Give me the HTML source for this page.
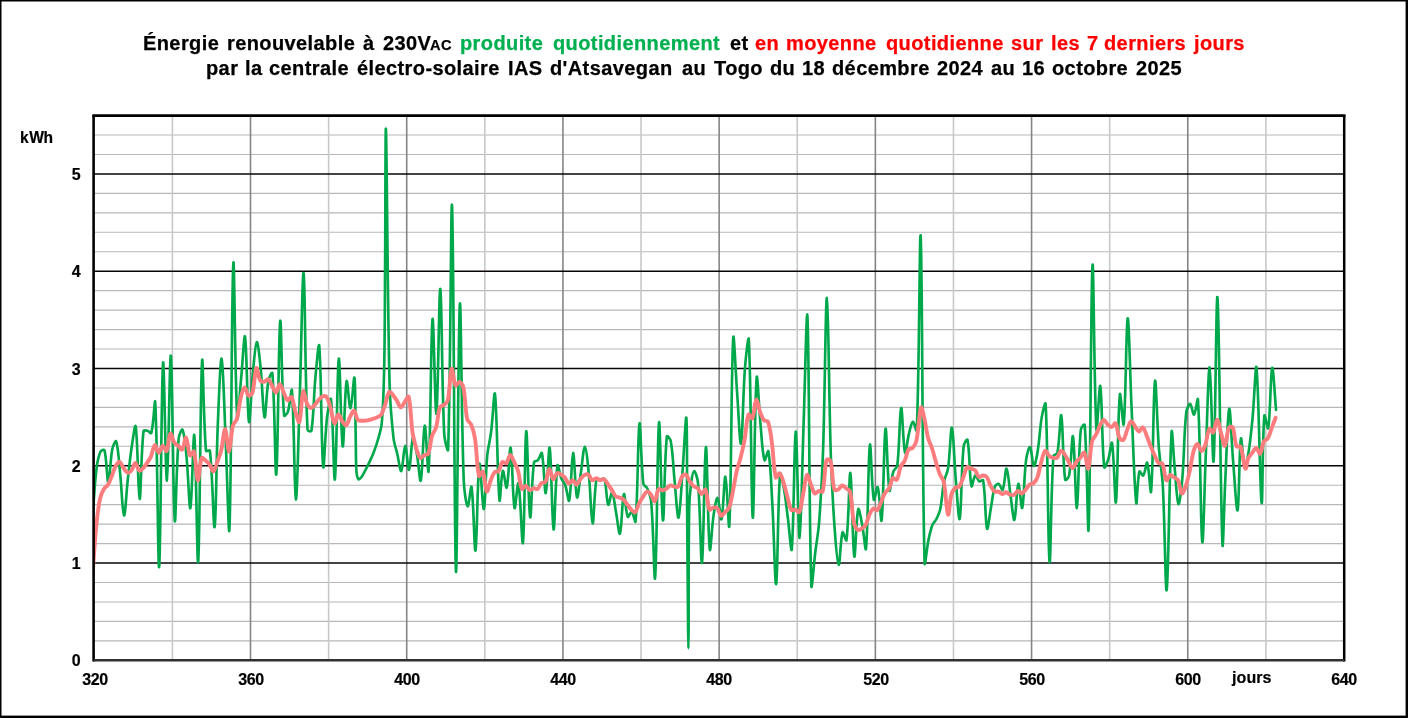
<!DOCTYPE html><html lang="fr"><head><meta charset="utf-8"><title>chart</title><style>
html,body{margin:0;padding:0;background:#fff}
#c{position:relative;width:1408px;height:718px;overflow:hidden;background:#fff;font-family:"Liberation Sans",sans-serif;font-weight:bold;color:#000}
.t{-webkit-text-stroke:0.25px currentColor;will-change:transform;position:absolute;white-space:nowrap;font-size:20px;line-height:22px;letter-spacing:0.4px}
.l{-webkit-text-stroke:0.2px currentColor;will-change:transform;position:absolute;white-space:nowrap;font-size:16px;line-height:16px;letter-spacing:-0.4px}
.g{color:#00b050}.r{color:#ff0000}.sc{font-size:14.6px;line-height:22px;letter-spacing:0.4px}
</style></head><body><div id="c">
<svg width="1408" height="718" viewBox="0 0 1408 718" style="position:absolute;left:0;top:0">
<rect x="0" y="0" width="1408" height="1.5" fill="#000"/><rect x="0" y="0" width="1.5" height="718" fill="#000"/><rect x="1405.6" y="0" width="2.4" height="718" fill="#000"/><rect x="0" y="715.6" width="1408" height="2.4" fill="#000"/>
<line x1="93.6" x2="1344.2" y1="640.85" y2="640.85" stroke="#bab6ba" stroke-width="1.1"/>
<line x1="93.6" x2="1344.2" y1="621.39" y2="621.39" stroke="#bab6ba" stroke-width="1.1"/>
<line x1="93.6" x2="1344.2" y1="601.94" y2="601.94" stroke="#bab6ba" stroke-width="1.1"/>
<line x1="93.6" x2="1344.2" y1="582.48" y2="582.48" stroke="#bab6ba" stroke-width="1.1"/>
<line x1="93.6" x2="1344.2" y1="543.58" y2="543.58" stroke="#bab6ba" stroke-width="1.1"/>
<line x1="93.6" x2="1344.2" y1="524.12" y2="524.12" stroke="#bab6ba" stroke-width="1.1"/>
<line x1="93.6" x2="1344.2" y1="504.67" y2="504.67" stroke="#bab6ba" stroke-width="1.1"/>
<line x1="93.6" x2="1344.2" y1="485.21" y2="485.21" stroke="#bab6ba" stroke-width="1.1"/>
<line x1="93.6" x2="1344.2" y1="446.31" y2="446.31" stroke="#bab6ba" stroke-width="1.1"/>
<line x1="93.6" x2="1344.2" y1="426.85" y2="426.85" stroke="#bab6ba" stroke-width="1.1"/>
<line x1="93.6" x2="1344.2" y1="407.40" y2="407.40" stroke="#bab6ba" stroke-width="1.1"/>
<line x1="93.6" x2="1344.2" y1="387.94" y2="387.94" stroke="#bab6ba" stroke-width="1.1"/>
<line x1="93.6" x2="1344.2" y1="349.04" y2="349.04" stroke="#bab6ba" stroke-width="1.1"/>
<line x1="93.6" x2="1344.2" y1="329.58" y2="329.58" stroke="#bab6ba" stroke-width="1.1"/>
<line x1="93.6" x2="1344.2" y1="310.13" y2="310.13" stroke="#bab6ba" stroke-width="1.1"/>
<line x1="93.6" x2="1344.2" y1="290.67" y2="290.67" stroke="#bab6ba" stroke-width="1.1"/>
<line x1="93.6" x2="1344.2" y1="251.77" y2="251.77" stroke="#bab6ba" stroke-width="1.1"/>
<line x1="93.6" x2="1344.2" y1="232.31" y2="232.31" stroke="#bab6ba" stroke-width="1.1"/>
<line x1="93.6" x2="1344.2" y1="212.86" y2="212.86" stroke="#bab6ba" stroke-width="1.1"/>
<line x1="93.6" x2="1344.2" y1="193.40" y2="193.40" stroke="#bab6ba" stroke-width="1.1"/>
<line x1="93.6" x2="1344.2" y1="154.50" y2="154.50" stroke="#bab6ba" stroke-width="1.1"/>
<line x1="93.6" x2="1344.2" y1="135.04" y2="135.04" stroke="#bab6ba" stroke-width="1.1"/>
<line x1="172.41" x2="172.41" y1="115.6" y2="660.3" stroke="#c6cac6" stroke-width="1.6"/>
<line x1="250.51" x2="250.51" y1="115.6" y2="660.3" stroke="#848684" stroke-width="1.6"/>
<line x1="328.62" x2="328.62" y1="115.6" y2="660.3" stroke="#c6cac6" stroke-width="1.6"/>
<line x1="406.72" x2="406.72" y1="115.6" y2="660.3" stroke="#848684" stroke-width="1.6"/>
<line x1="484.83" x2="484.83" y1="115.6" y2="660.3" stroke="#c6cac6" stroke-width="1.6"/>
<line x1="562.94" x2="562.94" y1="115.6" y2="660.3" stroke="#848684" stroke-width="1.6"/>
<line x1="641.04" x2="641.04" y1="115.6" y2="660.3" stroke="#c6cac6" stroke-width="1.6"/>
<line x1="719.15" x2="719.15" y1="115.6" y2="660.3" stroke="#848684" stroke-width="1.6"/>
<line x1="797.25" x2="797.25" y1="115.6" y2="660.3" stroke="#c6cac6" stroke-width="1.6"/>
<line x1="875.36" x2="875.36" y1="115.6" y2="660.3" stroke="#848684" stroke-width="1.6"/>
<line x1="953.47" x2="953.47" y1="115.6" y2="660.3" stroke="#c6cac6" stroke-width="1.6"/>
<line x1="1031.57" x2="1031.57" y1="115.6" y2="660.3" stroke="#848684" stroke-width="1.6"/>
<line x1="1109.68" x2="1109.68" y1="115.6" y2="660.3" stroke="#c6cac6" stroke-width="1.6"/>
<line x1="1187.78" x2="1187.78" y1="115.6" y2="660.3" stroke="#848684" stroke-width="1.6"/>
<line x1="1265.89" x2="1265.89" y1="115.6" y2="660.3" stroke="#c6cac6" stroke-width="1.6"/>
<line x1="93.6" x2="1344.2" y1="563.03" y2="563.03" stroke="#080408" stroke-width="1.6"/>
<line x1="93.6" x2="1344.2" y1="465.76" y2="465.76" stroke="#080408" stroke-width="1.6"/>
<line x1="93.6" x2="1344.2" y1="368.49" y2="368.49" stroke="#080408" stroke-width="1.6"/>
<line x1="93.6" x2="1344.2" y1="271.22" y2="271.22" stroke="#080408" stroke-width="1.6"/>
<line x1="93.6" x2="1344.2" y1="173.95" y2="173.95" stroke="#080408" stroke-width="1.6"/>
<clipPath id="cp"><rect x="93.6" y="115.6" width="1250.6" height="544.7"/></clipPath>
<g clip-path="url(#cp)" fill="none" stroke-linejoin="round" stroke-linecap="round">
<path d="M92.75,514.39C94.11,498.05 94.63,483.94 96.65,467.71C97.37,461.95 98.37,456.47 100.56,451.56C101.10,450.34 104.15,448.98 104.46,450.20C106.89,459.79 107.02,482.64 108.37,482.47C109.76,482.30 110.10,460.62 112.27,449.22C112.84,446.26 115.59,439.67 116.18,441.44C118.32,447.84 118.93,461.65 120.08,472.57C121.67,487.58 122.52,514.42 123.99,515.52C125.26,516.47 126.43,491.38 127.90,478.41C129.16,467.16 130.12,457.49 131.80,446.31C132.86,439.26 135.11,422.28 135.71,426.32C137.84,440.73 138.20,498.11 139.61,499.00C140.93,499.83 140.93,453.81 143.52,431.23C143.67,429.92 146.15,430.46 147.42,430.74C148.88,431.07 150.98,434.24 151.33,432.98C153.71,424.31 154.80,394.97 155.23,402.37C157.53,441.84 157.92,573.02 159.14,566.89C160.65,559.29 161.31,382.29 163.04,363.12C164.04,352.07 165.62,481.75 166.95,480.52C168.36,479.22 169.67,349.86 170.85,355.87C172.41,363.81 172.93,501.08 174.76,520.39C175.67,530.01 176.22,466.92 178.66,438.52C178.95,435.20 181.84,428.14 182.57,429.77C184.58,434.27 185.55,446.79 186.47,456.03C188.29,474.17 189.24,511.01 190.38,507.99C191.97,503.75 193.29,428.41 194.29,435.28C196.02,447.21 197.13,571.76 198.19,561.70C199.87,545.73 200.21,387.75 202.10,360.91C202.94,348.89 203.38,420.57 206.00,450.68C206.11,451.99 209.76,449.39 209.91,450.68C212.77,476.11 213.41,530.66 214.59,527.05C216.14,522.32 216.25,461.90 217.72,426.85C218.71,402.95 220.35,357.03 221.62,358.62C223.08,360.44 224.28,409.29 225.53,436.58C227.01,468.93 228.73,544.67 229.43,529.01C231.46,484.04 231.61,287.90 233.34,263.34C234.34,249.04 235.07,386.02 237.24,417.98C237.80,426.23 239.81,392.14 241.15,378.22C242.54,363.70 244.16,331.74 245.05,336.74C246.89,346.98 247.22,413.60 248.96,421.76C249.95,426.42 251.21,390.27 252.86,373.35C253.94,362.38 255.29,343.00 256.77,342.08C258.02,341.30 259.71,359.20 260.68,368.49C262.44,385.50 263.03,414.90 264.58,417.22C265.76,418.98 266.23,392.84 268.49,380.16C268.96,377.49 272.19,370.98 272.39,373.35C274.93,403.90 275.21,481.47 276.30,474.22C277.94,463.23 278.51,333.97 280.20,321.24C281.24,313.40 281.53,385.76 284.11,415.47C284.26,417.27 287.43,413.15 288.01,411.29C290.16,404.43 291.47,385.54 291.92,390.54C294.21,416.41 294.41,498.20 295.82,499.49C297.14,500.70 298.50,433.31 299.73,397.67C301.23,354.11 302.42,268.22 303.63,273.20C305.16,279.46 304.87,376.01 307.54,429.77C307.61,431.15 311.25,432.02 311.44,430.74C313.98,413.98 313.66,396.57 315.35,378.22C316.39,366.90 318.67,339.41 319.25,345.97C321.41,370.32 321.22,448.87 323.16,466.52C323.96,473.77 325.06,434.32 327.07,417.12C327.80,410.83 330.47,395.39 330.97,399.41C333.20,417.13 333.79,484.91 334.88,479.24C336.52,470.68 337.20,365.45 338.78,358.78C339.93,353.94 341.12,441.82 342.69,446.34C343.85,449.70 344.66,390.70 346.59,381.29C347.40,377.36 349.21,408.84 350.50,408.25C351.95,407.58 353.72,375.17 354.40,377.68C355.49,381.68 355.23,409.64 355.57,426.85C355.85,440.47 355.78,452.15 356.16,465.76C356.26,469.17 356.32,472.17 356.94,475.49C357.21,476.91 357.87,478.74 358.70,479.28C359.17,479.59 360.04,478.48 360.65,477.92C361.27,477.35 361.78,476.79 362.21,476.07C363.69,473.59 364.79,471.35 366.12,468.78C367.53,466.04 368.75,463.70 370.02,460.90C371.48,457.70 372.70,454.94 373.93,451.66C375.44,447.62 376.69,444.13 377.83,439.98C379.42,434.26 381.22,429.35 381.74,423.45C383.43,404.33 383.74,387.74 384.16,368.49C384.90,334.46 384.80,305.26 385.06,271.22C385.43,221.75 385.39,115.85 385.96,129.87C386.97,155.00 387.39,294.50 389.55,383.08C390.02,402.18 391.38,418.59 393.46,437.55C394.11,443.52 395.99,448.43 397.36,454.28C398.73,460.14 400.16,472.20 401.27,471.01C402.90,469.24 403.77,446.06 405.17,445.84C406.50,445.63 407.91,471.02 409.08,469.78C410.64,468.12 411.19,441.17 412.98,437.57C413.92,435.68 415.82,448.25 416.89,454.09C418.56,463.26 419.90,483.72 420.79,480.47C422.63,473.79 423.20,427.56 424.70,425.72C425.93,424.20 427.97,479.44 428.60,470.87C430.71,442.18 430.82,331.61 432.51,319.27C433.56,311.58 435.24,418.23 436.41,413.66C437.97,407.62 439.05,285.72 440.32,288.96C441.79,292.72 441.77,383.16 444.22,433.66C444.50,439.31 447.96,454.36 448.13,449.38C450.69,374.57 450.94,188.61 452.03,205.69C453.68,231.31 454.36,551.45 455.94,571.38C457.09,585.93 458.20,323.42 459.85,304.22C460.93,291.56 461.37,418.79 463.75,480.35C464.10,489.51 466.09,504.92 467.66,506.27C468.83,507.28 470.92,483.43 471.56,487.07C473.65,498.91 474.31,553.93 475.47,550.51C477.04,545.84 477.44,473.49 479.37,463.98C480.38,459.00 482.60,510.40 483.86,509.12C485.34,507.62 485.45,474.55 487.18,456.03C487.97,447.59 490.03,440.52 491.09,432.10C492.76,418.82 494.21,387.74 494.99,394.04C497.15,411.52 497.34,479.02 499.48,500.06C500.08,505.89 501.21,473.57 502.80,470.82C503.74,469.21 505.89,490.05 506.71,487.62C508.62,482.00 509.52,444.99 510.61,447.83C512.26,452.11 512.59,499.15 514.52,507.96C515.32,511.59 517.56,479.79 518.43,483.38C520.50,491.97 521.97,549.13 522.92,542.77C524.70,530.86 524.81,436.25 526.24,431.19C527.34,427.29 528.47,510.57 530.14,517.18C531.21,521.41 531.51,480.64 534.05,462.16C534.25,460.70 536.99,461.32 537.95,460.22C539.73,458.16 541.40,451.18 541.86,453.11C544.13,462.71 544.48,494.04 545.76,493.16C547.21,492.17 548.69,443.25 549.67,447.79C551.42,455.92 552.04,525.84 553.57,529.35C554.77,532.08 555.22,480.36 557.48,465.62C557.95,462.53 559.66,474.08 561.38,478.41C562.39,480.94 564.38,482.64 565.29,485.21C567.12,490.40 568.51,503.37 569.19,500.56C571.25,492.07 571.68,453.53 573.10,452.94C574.42,452.40 575.26,492.93 577.00,497.33C577.99,499.80 579.57,481.24 580.91,472.57C582.31,463.53 583.45,446.72 584.82,446.72C586.18,446.72 587.79,463.47 588.72,472.57C590.53,490.28 591.17,522.12 592.63,523.30C593.90,524.34 594.02,493.02 596.53,478.89C596.75,477.64 599.07,479.38 600.44,479.38C601.80,479.38 603.98,477.73 604.34,478.89C606.72,486.60 606.41,501.54 608.25,504.72C609.15,506.29 611.09,491.44 612.15,492.48C613.83,494.14 614.73,505.45 616.06,512.45C617.46,519.85 619.00,535.86 619.96,533.62C621.73,529.49 622.14,497.97 623.87,494.25C624.87,492.09 625.62,511.95 627.77,516.83C628.36,518.15 630.64,511.36 631.68,511.96C633.38,512.95 635.33,524.31 635.58,521.39C638.06,493.37 637.80,431.66 639.49,423.56C640.53,418.56 640.91,463.28 643.39,483.95C643.64,485.98 646.48,486.56 647.30,488.42C649.21,492.79 650.78,496.93 651.21,501.75C653.52,528.18 654.21,586.83 655.11,577.72C656.95,559.13 657.34,434.90 659.02,422.58C660.07,414.82 661.45,517.71 662.92,520.35C664.18,522.61 664.27,462.50 666.83,436.58C667.01,434.74 670.38,439.05 670.73,441.05C673.12,454.71 673.20,467.24 674.64,481.32C675.93,494.04 677.32,519.00 678.54,517.63C680.05,515.93 681.21,488.35 682.45,472.57C683.94,453.46 685.74,413.01 686.35,417.94C687.38,426.29 686.87,478.11 687.13,510.50C687.48,552.38 687.73,588.27 688.11,630.15C688.17,636.47 688.29,648.22 688.38,648.22C688.47,648.22 688.58,636.47 688.62,630.15C688.86,587.93 688.47,551.73 689.16,509.53C689.31,500.49 689.88,492.70 691.04,483.75C691.62,479.26 692.92,471.22 694.16,471.13C695.38,471.05 697.69,478.84 698.07,483.27C700.42,510.89 700.86,567.85 701.97,562.69C703.59,555.19 704.43,449.60 705.88,447.11C707.16,444.90 707.75,531.72 709.78,549.26C710.48,555.28 711.84,526.51 713.69,514.39C714.58,508.58 716.40,497.27 717.60,498.01C719.13,498.96 720.58,521.74 721.50,519.24C723.32,514.31 724.14,475.72 725.41,476.78C726.87,478.00 728.74,535.82 729.31,525.75C731.48,487.30 731.10,374.16 733.22,338.15C733.83,327.63 735.70,373.68 737.12,392.81C738.44,410.56 739.92,446.97 741.03,443.53C742.66,438.46 742.96,394.70 744.93,368.49C745.69,358.37 748.45,332.42 748.84,339.74C751.19,384.56 751.21,510.04 752.74,517.48C753.95,523.33 754.61,401.90 756.65,377.70C757.34,369.50 758.99,408.40 760.55,424.91C761.72,437.27 762.31,452.94 764.46,460.19C765.05,462.17 767.93,448.92 768.36,451.28C770.66,463.80 771.21,484.70 772.27,502.72C773.94,531.15 775.01,588.27 776.17,584.01C777.75,578.25 777.68,503.24 780.08,474.12C780.42,470.02 783.04,483.78 783.99,489.10C785.78,499.23 786.56,508.07 787.89,518.29C789.29,529.07 791.22,555.44 791.80,549.10C793.96,525.08 794.27,433.58 795.70,431.54C797.00,429.70 798.27,538.81 799.61,538.01C801.00,537.17 802.14,465.76 803.51,426.85C804.87,388.18 806.62,300.21 807.42,316.37C809.35,355.70 808.89,511.67 811.32,585.38C811.62,594.39 813.82,564.15 815.23,552.72C816.55,542.02 818.31,532.92 819.13,522.18C821.04,497.37 822.17,476.04 823.04,451.17C824.91,397.54 825.60,297.06 826.94,297.89C828.33,298.76 828.99,400.70 830.85,456.03C831.72,481.93 832.90,504.12 834.75,529.96C835.63,542.21 837.24,564.42 838.66,564.86C839.98,565.27 840.41,539.21 842.56,532.39C843.14,530.57 846.16,542.55 846.47,540.17C848.89,521.79 849.16,470.54 850.38,473.07C851.89,476.20 852.54,548.26 854.28,556.35C855.27,560.93 856.12,517.78 858.19,509.27C858.86,506.50 861.04,518.86 862.09,524.12C863.78,532.57 865.47,553.78 866.00,548.45C868.21,526.04 868.12,456.03 869.90,444.87C870.85,438.96 871.60,487.71 873.81,499.66C874.33,502.51 876.94,485.12 877.71,487.15C879.68,492.34 880.89,525.74 881.62,520.29C883.62,505.33 883.89,435.10 885.52,428.83C886.62,424.61 887.34,478.91 889.43,490.33C890.08,493.87 891.33,477.89 893.33,471.60C894.07,469.29 896.94,468.17 897.24,465.76C899.68,445.94 899.60,410.66 901.14,408.08C902.34,406.08 903.14,446.43 905.05,452.68C905.88,455.39 907.29,440.24 908.96,433.66C910.02,429.44 911.31,422.47 912.86,421.83C914.04,421.34 916.64,433.45 916.77,430.44C919.37,368.63 919.65,219.36 920.67,236.62C922.39,265.66 922.02,463.56 924.58,562.72C924.76,569.73 926.84,547.88 928.48,539.98C929.58,534.71 930.51,530.07 932.39,525.09C933.24,522.82 935.21,521.45 936.29,519.26C937.95,515.90 939.44,512.91 940.20,509.24C942.18,499.63 942.24,490.98 944.10,481.32C944.98,476.79 947.34,473.24 948.01,468.68C950.08,454.49 950.72,425.94 951.91,427.73C953.45,430.03 954.24,461.95 955.82,480.35C956.97,493.81 958.77,522.89 959.72,518.75C961.51,510.97 961.15,471.32 963.63,446.31C963.89,443.72 967.15,437.95 967.53,439.89C969.89,451.85 969.24,476.01 971.44,486.04C971.97,488.47 973.66,476.50 975.35,475.49C976.40,474.85 977.51,480.24 979.25,481.32C980.25,481.94 982.95,479.08 983.16,480.35C985.68,495.60 985.16,521.91 987.06,528.53C987.90,531.44 989.60,514.92 990.97,507.59C992.33,500.27 992.64,493.43 994.87,486.67C995.37,485.16 997.68,483.50 998.78,483.95C1000.41,484.62 1002.01,491.21 1002.68,489.88C1004.74,485.82 1005.36,467.74 1006.59,468.53C1008.10,469.51 1009.09,485.70 1010.49,494.94C1011.82,503.65 1013.28,521.41 1014.40,519.82C1016.01,517.53 1016.67,486.35 1018.30,483.85C1019.40,482.16 1021.29,510.67 1022.21,507.86C1024.02,502.30 1023.97,476.55 1026.11,459.92C1026.71,455.31 1028.90,446.30 1030.02,447.16C1031.63,448.40 1032.44,465.34 1033.92,465.92C1035.18,466.40 1036.94,455.78 1037.83,450.20C1039.67,438.71 1039.79,428.58 1041.74,417.12C1042.53,412.45 1045.42,400.11 1045.64,404.12C1048.16,450.72 1047.91,550.88 1049.55,561.75C1050.64,569.05 1050.84,492.38 1053.45,456.03C1053.57,454.36 1057.05,454.74 1057.36,453.11C1059.78,440.47 1060.25,411.85 1061.26,415.29C1062.98,421.11 1062.64,460.00 1065.17,479.57C1065.38,481.21 1068.75,477.68 1069.07,475.88C1071.48,462.59 1072.00,432.46 1072.98,436.47C1074.74,443.72 1075.58,509.17 1076.88,508.05C1078.31,506.83 1078.25,456.71 1080.79,429.77C1080.99,427.68 1084.54,423.18 1084.69,425.10C1087.28,457.88 1087.83,544.72 1088.60,528.92C1090.56,488.86 1090.82,286.96 1092.50,265.49C1093.55,252.12 1094.25,396.04 1096.41,429.39C1096.98,438.24 1099.36,381.46 1100.31,386.07C1102.09,394.67 1101.74,443.64 1104.22,467.12C1104.47,469.49 1107.25,462.63 1108.13,459.92C1109.98,454.23 1111.41,439.79 1112.03,443.13C1114.15,454.56 1114.97,508.16 1115.94,502.13C1117.70,491.17 1117.70,415.91 1119.84,394.57C1120.44,388.64 1123.14,430.10 1123.75,424.23C1125.88,403.44 1126.17,321.60 1127.65,318.41C1128.90,315.71 1130.11,376.25 1131.56,407.40C1133.11,440.79 1134.19,485.87 1136.24,502.78C1136.92,508.34 1137.28,479.72 1139.37,471.60C1139.74,470.17 1142.47,476.39 1143.27,475.49C1145.20,473.32 1146.32,461.08 1147.18,462.84C1149.05,466.67 1150.52,497.38 1151.08,491.45C1153.25,468.78 1153.29,390.52 1154.99,381.13C1156.02,375.40 1157.13,424.79 1158.89,448.25C1159.87,461.22 1162.08,472.23 1162.80,485.21C1164.82,521.79 1165.48,597.24 1166.70,589.84C1168.55,578.68 1169.33,467.98 1171.59,432.19C1172.07,424.55 1173.40,454.02 1174.52,465.76C1175.79,479.13 1176.79,501.30 1178.42,503.94C1179.52,505.72 1181.56,487.41 1182.33,478.41C1184.29,455.45 1183.84,435.42 1186.23,412.65C1186.58,409.34 1188.88,403.59 1190.14,403.90C1191.62,404.26 1192.88,415.18 1194.04,414.55C1195.62,413.69 1197.67,395.26 1197.95,399.62C1200.54,439.76 1200.54,529.38 1202.24,541.69C1203.27,549.12 1204.48,486.01 1205.76,456.03C1207.08,424.99 1208.33,366.48 1209.66,367.34C1211.07,368.26 1212.57,470.02 1213.57,461.12C1215.31,445.60 1216.24,286.00 1217.47,297.57C1219.34,315.00 1220.26,493.14 1222.43,543.97C1222.99,557.11 1224.17,502.61 1225.28,480.35C1226.54,455.35 1227.61,412.86 1229.19,408.92C1230.34,406.05 1231.59,442.72 1233.09,460.90C1234.53,478.20 1236.47,513.46 1237.59,510.29C1239.20,505.71 1239.09,449.70 1240.91,438.78C1241.62,434.46 1243.07,464.00 1244.81,466.77C1245.80,468.34 1247.84,456.72 1248.72,451.17C1250.58,439.34 1251.50,429.06 1252.62,417.12C1254.24,399.92 1255.68,359.87 1256.53,367.89C1258.83,389.81 1259.94,492.50 1261.60,502.67C1262.68,509.23 1262.32,438.38 1264.34,415.71C1264.64,412.31 1267.76,431.14 1268.24,428.16C1270.49,414.43 1270.54,371.77 1272.15,367.99C1273.27,365.35 1274.69,395.19 1276.05,409.83" stroke="#00a84c" stroke-width="2.65"/>
<path d="M92.35,577.62C93.71,559.58 94.48,544.07 96.25,526.07C97.22,516.25 98.15,507.75 100.16,498.15C100.88,494.67 102.29,491.74 104.06,488.72C105.02,487.08 106.98,486.45 107.97,484.82C109.72,481.95 110.58,479.04 111.87,475.88C113.31,472.36 113.97,469.01 115.78,465.76C116.70,464.11 118.52,461.51 119.68,461.87C121.25,462.36 122.06,466.10 123.59,468.19C124.80,469.84 125.93,472.08 127.50,472.57C128.66,472.93 130.48,471.75 131.40,470.62C133.21,468.42 133.94,463.04 135.31,463.04C136.67,463.04 137.43,469.45 139.21,470.62C140.17,471.26 141.98,469.30 143.12,468.19C144.71,466.64 145.76,464.91 147.02,463.04C148.49,460.86 149.88,459.01 150.93,456.62C152.61,452.75 153.23,445.91 154.83,445.14C155.97,444.59 157.32,452.70 158.74,452.82C160.05,452.94 161.12,446.20 162.64,445.82C163.86,445.52 165.82,452.01 166.55,450.88C168.56,447.75 168.69,435.52 170.45,433.66C171.43,432.63 172.56,439.81 174.36,442.61C175.29,444.06 176.95,444.64 178.26,445.82C179.68,447.09 181.35,450.49 182.17,449.61C184.09,447.56 184.95,436.63 186.07,437.45C187.69,438.64 187.87,451.55 189.98,455.35C190.61,456.48 193.45,450.18 193.89,451.56C196.19,458.93 196.26,479.09 197.79,480.35C198.99,481.34 199.43,463.74 201.70,457.98C202.16,456.80 204.35,459.48 205.60,460.51C207.08,461.73 208.39,462.84 209.51,464.40C211.13,466.66 212.22,471.79 213.41,471.40C214.95,470.90 216.07,465.25 217.32,461.87C218.81,457.83 220.23,454.38 221.22,450.20C222.96,442.90 223.80,428.86 225.13,429.09C226.54,429.33 227.77,452.16 229.03,451.56C230.50,450.86 230.80,434.27 232.94,425.39C233.54,422.90 236.15,421.54 236.84,419.07C238.88,411.84 238.93,405.03 240.75,397.67C241.66,393.97 243.17,387.83 244.65,387.46C245.90,387.15 246.79,394.56 248.56,395.73C249.52,396.36 252.01,394.23 252.46,392.61C254.74,384.60 254.57,371.00 256.37,368.20C257.31,366.74 258.20,376.87 260.28,380.45C260.94,381.60 262.90,381.93 264.18,381.72C265.63,381.48 267.03,378.68 268.09,379.19C269.77,380.01 270.68,383.26 271.99,385.51C273.42,387.96 274.62,392.82 275.90,392.61C277.35,392.38 278.43,384.25 279.80,384.25C281.17,384.25 282.29,389.71 283.71,392.61C285.03,395.33 285.89,399.31 287.61,400.30C288.62,400.88 290.84,396.08 291.52,397.09C293.57,400.10 293.83,406.71 295.42,411.78C296.57,415.42 298.62,423.86 299.33,421.99C301.35,416.68 301.33,395.62 303.23,391.25C304.06,389.36 305.20,399.94 307.14,404.09C307.93,405.80 309.62,407.86 311.04,407.98C312.35,408.10 313.75,406.06 314.95,404.77C316.48,403.13 317.32,401.26 318.85,399.62C320.05,398.33 321.23,396.90 322.76,396.41C323.96,396.02 325.97,396.05 326.67,397.09C328.70,400.11 329.42,404.10 330.57,407.98C332.15,413.30 332.78,421.96 334.48,423.35C335.52,424.21 336.88,414.78 338.38,414.40C339.61,414.09 340.66,419.15 342.29,421.40C343.39,422.93 345.17,425.78 346.19,425.20C347.91,424.22 348.60,419.75 350.10,416.93C351.33,414.61 352.86,410.04 354.00,410.51C355.59,411.16 355.93,417.55 357.91,420.14C358.66,421.12 360.44,420.66 361.81,420.72C363.17,420.79 364.36,420.68 365.72,420.53C367.09,420.38 368.28,420.17 369.62,419.85C371.01,419.52 372.18,419.15 373.53,418.68C374.92,418.20 376.15,417.83 377.43,417.12C378.89,416.33 380.50,415.77 381.34,414.40C383.23,411.34 384.02,408.00 385.24,404.48C386.75,400.14 387.18,394.29 389.15,391.93C389.91,391.02 391.90,393.82 393.06,395.14C394.64,396.95 395.66,398.83 396.96,400.88C398.39,403.12 399.42,407.22 400.87,407.40C402.16,407.56 403.36,403.76 404.77,401.85C406.09,400.08 408.27,395.28 408.68,396.89C411.00,406.07 410.72,420.25 412.58,432.69C413.46,438.53 414.75,443.50 416.49,449.13C417.49,452.38 418.57,456.67 420.39,458.08C421.30,458.78 422.81,455.95 424.30,455.16C425.55,454.49 427.71,455.12 428.20,453.89C430.44,448.28 430.24,441.83 432.11,435.61C432.98,432.71 435.21,430.74 436.01,427.82C437.95,420.80 437.67,413.79 439.92,407.20C440.40,405.79 442.62,405.96 443.82,404.97C445.35,403.71 447.32,402.69 447.73,400.78C450.05,390.03 449.85,372.30 451.63,368.78C452.58,366.92 453.45,381.90 455.54,385.41C456.18,386.49 458.25,381.61 459.45,381.91C460.98,382.30 462.88,385.10 463.35,387.36C465.61,398.21 464.98,408.53 467.26,419.36C467.71,421.54 470.34,422.45 471.16,424.52C473.07,429.32 474.28,433.83 475.07,439.01C477.01,451.84 476.61,466.12 478.97,475.97C479.34,477.53 482.26,470.38 482.88,471.60C485.00,475.79 485.04,489.45 486.78,491.44C487.78,492.58 489.17,484.29 490.69,480.55C491.90,477.55 492.69,474.44 494.59,472.18C495.42,471.20 497.72,472.32 498.50,471.30C500.46,468.74 500.46,463.98 502.40,461.97C503.19,461.15 505.47,464.00 506.31,463.23C508.20,461.51 508.76,455.10 510.21,454.87C511.49,454.66 512.88,459.42 514.12,461.97C515.61,465.04 517.07,467.65 518.03,470.92C519.81,477.04 519.78,484.75 521.93,488.81C522.52,489.92 524.58,485.50 525.84,485.70C527.31,485.94 528.17,489.59 529.74,490.08C530.91,490.44 532.22,488.33 533.65,488.13C534.95,487.95 536.57,489.65 537.55,489.01C539.31,487.85 539.70,484.55 541.46,482.98C542.44,482.10 544.73,483.12 545.36,482.00C547.47,478.29 547.75,469.71 549.27,469.16C550.48,468.73 551.54,478.37 553.17,479.18C554.28,479.73 555.35,474.07 557.08,473.06C558.08,472.47 559.72,473.89 560.98,474.61C562.45,475.45 563.79,476.26 564.89,477.53C566.52,479.42 567.20,483.10 568.79,483.66C569.93,484.05 571.42,480.09 572.70,480.25C574.15,480.43 575.34,484.83 576.60,484.63C578.08,484.39 578.99,480.84 580.51,478.99C581.73,477.50 582.82,476.01 584.42,475.10C585.56,474.44 587.33,473.86 588.32,474.51C590.06,475.66 590.55,479.44 592.23,480.25C593.28,480.77 594.76,478.31 596.13,478.31C597.50,478.31 598.63,480.13 600.04,480.25C601.36,480.37 602.88,478.46 603.94,478.99C605.61,479.82 606.53,482.30 607.85,484.14C609.26,486.12 610.44,487.84 611.75,489.88C613.17,492.10 613.89,494.56 615.66,496.30C616.62,497.25 618.24,497.02 619.56,497.57C620.97,498.15 622.36,498.52 623.47,499.51C625.09,500.97 626.01,502.79 627.37,504.57C628.75,506.37 629.69,508.16 631.28,509.73C632.42,510.85 634.30,512.98 635.18,512.26C637.04,510.73 637.54,506.35 639.09,503.31C640.28,500.97 641.54,499.08 642.99,496.89C644.28,494.96 645.32,492.05 646.90,491.54C648.05,491.16 649.78,493.07 650.81,494.36C652.51,496.51 653.66,502.06 654.71,501.36C656.39,500.25 656.55,492.09 658.62,489.20C659.28,488.27 661.19,490.57 662.52,490.47C663.92,490.36 665.17,489.43 666.43,488.62C667.90,487.66 668.82,485.78 670.33,485.41C671.56,485.10 672.84,486.45 674.24,486.67C675.57,486.89 677.42,487.61 678.14,486.67C680.16,484.04 680.09,479.50 682.05,476.46C682.83,475.25 685.00,473.88 685.95,474.51C687.74,475.71 688.27,479.34 689.86,481.71C691.01,483.43 692.19,484.89 693.76,486.19C694.92,487.14 696.63,487.08 697.67,488.13C699.36,489.84 700.08,493.77 701.57,494.07C702.81,494.31 704.86,488.47 705.48,489.69C707.60,493.88 707.14,504.38 709.38,509.53C709.87,510.64 711.86,507.84 713.29,507.59C714.59,507.36 716.34,507.26 717.20,508.17C719.07,510.15 719.43,515.02 721.10,515.85C722.16,516.38 723.65,513.40 725.01,512.06C726.38,510.71 728.24,509.92 728.91,508.17C730.98,502.74 731.59,497.39 732.82,491.54C734.32,484.38 735.09,478.13 736.72,471.01C737.82,466.22 739.43,462.27 740.63,457.49C742.16,451.41 743.41,446.16 744.53,439.98C746.14,431.14 746.18,420.83 748.44,414.60C748.92,413.27 751.73,419.54 752.34,418.39C754.47,414.37 754.62,401.13 756.25,399.81C757.35,398.92 758.56,407.87 760.15,412.07C761.29,415.05 762.17,418.03 764.06,420.33C764.91,421.37 767.52,420.34 767.96,421.60C770.25,428.07 770.84,435.08 771.87,442.42C773.58,454.62 773.42,468.10 775.77,477.43C776.15,478.93 778.70,472.70 779.68,473.35C781.43,474.50 782.50,479.26 783.59,482.59C785.23,487.63 786.04,492.16 787.49,497.28C788.77,501.79 789.28,506.80 791.40,510.12C792.02,511.09 794.05,509.22 795.30,509.53C796.78,509.90 798.66,513.15 799.21,512.06C801.39,507.74 801.79,500.37 803.11,494.07C804.52,487.37 805.23,477.08 807.02,474.90C807.97,473.75 809.51,481.18 810.92,484.53C812.25,487.68 812.98,491.96 814.83,493.48C815.71,494.21 817.25,491.32 818.73,490.95C819.99,490.64 822.34,492.73 822.64,491.54C825.07,481.87 824.12,469.44 826.54,459.92C826.85,458.72 830.12,459.63 830.45,460.90C832.85,470.01 831.95,480.74 834.35,489.59C834.68,490.78 837.15,490.18 838.26,489.59C839.88,488.72 840.69,485.65 842.16,485.41C843.42,485.20 844.73,487.27 846.07,488.33C847.46,489.42 849.59,489.87 849.98,491.54C852.33,501.75 851.74,511.75 853.88,522.27C854.48,525.20 855.93,528.44 857.79,529.96C858.67,530.68 860.50,529.44 861.69,528.69C863.23,527.73 864.73,526.69 865.60,525.09C867.46,521.68 867.81,517.98 869.50,514.39C870.54,512.19 871.70,509.50 873.41,508.56C874.43,508.00 876.46,510.86 877.31,510.12C879.19,508.48 879.89,504.70 881.22,501.75C882.62,498.64 883.42,495.72 885.12,492.80C886.16,491.02 888.07,490.14 889.03,488.33C890.80,485.00 890.96,480.27 892.93,478.11C893.70,477.28 896.20,480.72 896.84,479.77C898.93,476.67 898.92,470.95 900.74,466.54C901.65,464.34 903.66,463.06 904.65,460.90C906.39,457.10 906.52,452.85 908.56,449.52C909.26,448.36 911.53,449.07 912.46,448.06C914.27,446.08 915.79,443.70 916.37,440.96C918.79,429.47 918.97,413.65 921.05,407.40C921.70,405.44 923.35,413.91 924.18,417.51C925.81,424.60 926.29,430.91 928.08,437.94C929.03,441.67 930.79,444.59 931.99,448.25C933.52,452.96 934.46,457.12 935.89,461.87C937.20,466.21 938.12,470.03 939.80,474.22C940.85,476.84 943.14,478.57 943.70,481.32C946.04,492.70 946.39,511.84 948.08,514.59C949.12,516.30 949.62,500.99 951.51,494.07C952.19,491.59 953.66,489.45 955.42,487.74C956.39,486.80 958.52,487.54 959.32,486.48C961.25,483.93 961.93,480.63 963.23,477.43C964.67,473.89 965.16,469.44 967.13,467.22C967.89,466.37 969.67,468.18 971.04,468.68C972.40,469.17 974.00,469.05 974.95,470.04C976.74,471.91 977.06,475.60 978.85,476.85C979.79,477.51 981.39,475.49 982.76,475.49C984.12,475.49 985.85,475.77 986.66,476.85C988.58,479.38 988.97,482.79 990.57,485.80C991.70,487.93 992.72,490.25 994.47,491.54C995.46,492.26 997.13,491.13 998.38,491.54C999.86,492.02 1000.86,493.94 1002.28,494.07C1003.60,494.18 1004.87,492.10 1006.19,492.22C1007.60,492.34 1008.61,494.27 1010.09,494.75C1011.34,495.15 1012.86,495.30 1014.00,494.75C1015.59,493.97 1016.43,491.19 1017.90,490.95C1019.16,490.75 1020.56,493.70 1021.81,493.48C1023.29,493.22 1024.45,491.04 1025.71,489.59C1027.18,487.91 1027.95,485.88 1029.62,484.53C1030.69,483.67 1032.53,484.20 1033.52,483.27C1035.26,481.64 1036.58,479.58 1037.43,477.24C1039.32,472.02 1039.75,467.05 1041.34,461.67C1042.48,457.79 1043.49,452.07 1045.24,450.78C1046.22,450.06 1047.51,454.47 1049.15,455.94C1050.24,456.92 1051.62,457.44 1053.05,457.78C1054.35,458.09 1056.06,458.59 1056.96,457.78C1058.79,456.14 1059.23,451.45 1060.86,450.78C1061.97,450.33 1063.67,453.04 1064.77,454.57C1066.40,456.85 1067.25,459.22 1068.67,461.67C1069.99,463.95 1071.21,468.09 1072.58,468.09C1073.94,468.09 1074.91,463.76 1076.48,461.67C1077.64,460.15 1079.12,459.23 1080.39,457.78C1081.86,456.10 1083.53,451.66 1084.29,452.73C1086.26,455.47 1087.18,470.18 1088.20,468.68C1089.92,466.13 1089.95,450.50 1092.10,441.15C1092.69,438.62 1094.82,437.07 1096.01,434.73C1097.55,431.69 1098.32,428.79 1099.91,425.78C1101.05,423.65 1102.35,420.28 1103.82,420.04C1105.08,419.84 1106.19,423.14 1107.73,424.52C1108.93,425.59 1110.37,427.25 1111.63,427.05C1113.10,426.81 1114.81,422.25 1115.54,423.25C1117.55,426.06 1117.32,433.42 1119.44,437.94C1120.05,439.24 1122.57,440.71 1123.35,439.89C1125.30,437.82 1125.77,433.20 1127.25,429.67C1128.50,426.70 1129.55,421.97 1131.16,421.31C1132.28,420.84 1133.69,424.66 1135.06,426.46C1136.42,428.24 1137.53,431.36 1138.97,431.52C1140.26,431.67 1141.85,426.75 1142.87,427.34C1144.58,428.32 1145.51,432.92 1146.78,436.00C1148.25,439.56 1149.23,442.73 1150.68,446.31C1151.97,449.47 1153.14,452.16 1154.59,455.25C1155.87,457.98 1156.62,460.93 1158.49,462.94C1159.36,463.86 1161.88,462.48 1162.40,463.62C1164.62,468.54 1164.32,477.34 1166.30,480.25C1167.06,481.36 1168.61,475.68 1170.21,475.10C1171.34,474.69 1172.77,476.58 1174.12,477.43C1175.51,478.32 1177.33,478.64 1178.02,480.06C1180.07,484.26 1180.24,492.27 1181.93,493.48C1182.98,494.24 1184.84,488.57 1185.83,485.70C1187.58,480.63 1188.56,476.07 1189.74,470.82C1191.29,463.88 1191.68,457.64 1193.64,450.88C1194.42,448.21 1196.19,443.86 1197.55,443.87C1198.92,443.89 1200.01,450.80 1201.45,450.97C1202.74,451.14 1204.52,447.22 1205.36,444.85C1207.25,439.52 1207.19,432.26 1209.26,428.99C1209.93,427.94 1212.40,433.41 1213.17,432.49C1215.13,430.14 1215.71,419.65 1217.07,419.65C1218.44,419.65 1219.64,427.99 1220.98,432.49C1222.37,437.18 1223.70,446.61 1224.88,445.92C1226.44,445.01 1226.54,433.28 1228.79,427.92C1229.27,426.77 1232.24,426.25 1232.69,427.34C1234.97,432.75 1234.32,440.91 1236.60,446.50C1237.06,447.62 1240.05,445.36 1240.51,446.50C1243.13,453.12 1243.55,465.95 1245.39,468.68C1246.28,470.00 1246.81,461.55 1248.32,458.08C1249.20,456.03 1250.85,454.72 1252.22,452.92C1253.58,451.14 1254.82,447.75 1256.13,447.86C1257.55,447.99 1259.07,454.39 1260.03,453.60C1261.80,452.15 1261.98,445.30 1263.94,441.44C1264.71,439.92 1266.98,439.72 1267.84,438.23C1269.72,434.99 1270.38,431.53 1271.75,427.92C1273.11,424.35 1274.29,421.28 1275.65,417.71" stroke="#fd7c7e" stroke-width="3.9"/>
</g>
<line x1="92.3" x2="1345.5" y1="115.6" y2="115.6" stroke="#000" stroke-width="2.7"/>
<line x1="93.6" x2="93.6" y1="115.6" y2="661.5" stroke="#000" stroke-width="2.6"/>
<line x1="1344.2" x2="1344.2" y1="115.6" y2="661.5" stroke="#000" stroke-width="2.5"/>
<line x1="93.6" x2="1344.2" y1="660.3" y2="660.3" stroke="#303030" stroke-width="2.5"/>
</svg>
<span class="t " id="w0_0" style="left:142.55px;top:31.5px">Énergie</span>
<span class="t " id="w0_1" style="left:227.25px;top:31.5px">renouvelable</span>
<span class="t " id="w0_2" style="left:363.30px;top:31.5px">à</span>
<span class="t " id="w0_3" style="left:382.65px;top:31.5px">230V</span>
<span class="t sc" id="w0_4" style="left:430.45px;top:33.6px">AC</span>
<span class="t g" id="w0_5" style="left:460.45px;top:31.5px">produite</span>
<span class="t g" id="w0_6" style="left:553.30px;top:31.5px">quotidiennement</span>
<span class="t " id="w0_7" style="left:729.50px;top:31.5px">et</span>
<span class="t r" id="w0_8" style="left:754.85px;top:31.5px">en</span>
<span class="t r" id="w0_9" style="left:785.75px;top:31.5px">moyenne</span>
<span class="t r" id="w0_10" style="left:885.60px;top:31.5px">quotidienne</span>
<span class="t r" id="w0_11" style="left:1011.10px;top:31.5px">sur</span>
<span class="t r" id="w0_12" style="left:1050.50px;top:31.5px">les</span>
<span class="t r" id="w0_13" style="left:1086.80px;top:31.5px">7</span>
<span class="t r" id="w0_14" style="left:1104.20px;top:31.5px">derniers</span>
<span class="t r" id="w0_15" style="left:1193.75px;top:31.5px">jours</span>
<span class="t " id="w1_0" style="left:206.10px;top:57.1px">par</span>
<span class="t " id="w1_1" style="left:244.50px;top:57.1px">la</span>
<span class="t " id="w1_2" style="left:268.80px;top:57.1px">centrale</span>
<span class="t " id="w1_3" style="left:357.47px;top:57.1px">électro-solaire</span>
<span class="t " id="w1_4" style="left:508.10px;top:57.1px">IAS</span>
<span class="t " id="w1_5" style="left:550.25px;top:57.1px">d'Atsavegan</span>
<span class="t " id="w1_6" style="left:681.80px;top:57.1px">au</span>
<span class="t " id="w1_7" style="left:713.50px;top:57.1px">Togo</span>
<span class="t " id="w1_8" style="left:769.72px;top:57.1px">du</span>
<span class="t " id="w1_9" style="left:801.75px;top:57.1px">18</span>
<span class="t " id="w1_10" style="left:831.75px;top:57.1px">décembre</span>
<span class="t " id="w1_11" style="left:937.30px;top:57.1px">2024</span>
<span class="t " id="w1_12" style="left:990.50px;top:57.1px">au</span>
<span class="t " id="w1_13" style="left:1021.75px;top:57.1px">16</span>
<span class="t " id="w1_14" style="left:1051.85px;top:57.1px">octobre</span>
<span class="t " id="w1_15" style="left:1135.85px;top:57.1px">2025</span>
<div class="l" style="left:20.4px;font-size:15.6px;letter-spacing:-0.3px;top:129.65px"><span style="letter-spacing:0.5px">k</span>Wh</div>
<div class="l" style="left:40px;width:40.2px;text-align:right;top:653.45px">0</div>
<div class="l" style="left:40px;width:40.2px;text-align:right;top:556.18px">1</div>
<div class="l" style="left:40px;width:40.2px;text-align:right;top:458.91px">2</div>
<div class="l" style="left:40px;width:40.2px;text-align:right;top:361.64px">3</div>
<div class="l" style="left:40px;width:40.2px;text-align:right;top:264.37px">4</div>
<div class="l" style="left:40px;width:40.2px;text-align:right;top:167.10px">5</div>
<div class="l" style="left:64.5px;width:60px;text-align:center;top:672.15px">320</div>
<div class="l" style="left:220.7px;width:60px;text-align:center;top:672.15px">360</div>
<div class="l" style="left:376.9px;width:60px;text-align:center;top:672.15px">400</div>
<div class="l" style="left:533.1px;width:60px;text-align:center;top:672.15px">440</div>
<div class="l" style="left:689.3px;width:60px;text-align:center;top:672.15px">480</div>
<div class="l" style="left:845.6px;width:60px;text-align:center;top:672.15px">520</div>
<div class="l" style="left:1001.8px;width:60px;text-align:center;top:672.15px">560</div>
<div class="l" style="left:1158.0px;width:60px;text-align:center;top:672.15px">600</div>
<div class="l" style="left:1314.2px;width:60px;text-align:center;top:672.15px">640</div>
<div class="l" style="left:1232.4px;letter-spacing:0.1px;top:670.35px">jours</div>
</div></body></html>
